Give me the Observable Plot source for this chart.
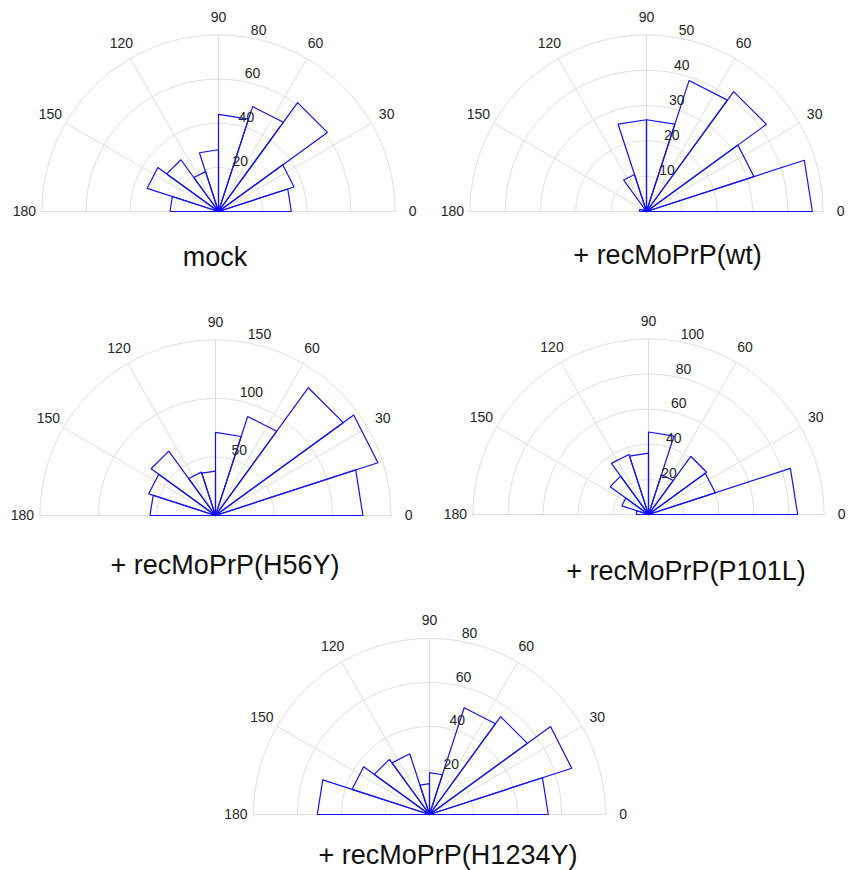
<!DOCTYPE html>
<html>
<head>
<meta charset="utf-8">
<script src="https://cdn.jsdelivr.net/npm/d3@7"></script>
<script src="https://cdn.jsdelivr.net/npm/@observablehq/plot@0.6"></script>
<style>
  body { margin: 0; background: #fff; }
  #root { position: relative; width: 852px; height: 870px; overflow: hidden; background: #fff; }
  .panel { position: absolute; }
</style>
</head>
<body>
<div id="root"></div>
<script>
// ---- data ----
const binEdges = [0, 18, 36, 54, 72, 90, 108, 126, 144, 162, 180];
const angleTicks = [0, 30, 60, 90, 120, 150, 180];
const spokeAngles = [30, 60, 90, 120, 150];

const titles = ["mock", "+ recMoPrP(wt)", "+ recMoPrP(H56Y)", "+ recMoPrP(P101L)", "+ recMoPrP(H1234Y)"];

const countsMock   = [33, 36, 61, 50, 44, 28, 19, 29, 34, 22];
const countsWt     = [47, 32, 42, 39, 26, 26, 11, 1, 1, 2];
const countsH56Y   = [126, 146, 135, 89, 71, 38, 39, 68, 60, 56];
const countsP101L  = [85, 40, 41, 24, 47, 35, 36, 27, 16, 7];
const countsH1234Y = [54, 68, 55, 51, 19, 14, 29, 31, 37, 51];

const ringTicksMock   = [20, 40, 60, 80];
const ringTicksWt     = [10, 20, 30, 40, 50];
const ringTicksH56Y   = [50, 100, 150];
const ringTicksP101L  = [20, 40, 60, 80, 100];
const ringTicksH1234Y = [20, 40, 60, 80];

// ---- layout (pixels) ----
const layout = [
  {cx: 217.5, cy: 211,   R: 176.5, tdx: -3.5, tdy: 46},
  {cx: 646,   cy: 211,   R: 176.5, tdx: 21,   tdy: 44},
  {cx: 214.5, cy: 515,   R: 175.5, tdx: 9.5,  tdy: 50},
  {cx: 647.5, cy: 513.5, R: 175.5, tdx: 37.5, tdy: 57},
  {cx: 428.5, cy: 813.5, R: 176,   tdx: 18.5, tdy: 40.5}
];

const series = [
  {counts: countsMock,   ticks: ringTicksMock},
  {counts: countsWt,     ticks: ringTicksWt},
  {counts: countsH56Y,   ticks: ringTicksH56Y},
  {counts: countsP101L,  ticks: ringTicksP101L},
  {counts: countsH1234Y, ticks: ringTicksH1234Y}
];

const FONT = "'Liberation Sans', Arial, Helvetica, sans-serif";
const GRID = "#dedede";
const TXT = "#262626";
const rad = a => a * Math.PI / 180;

function makePanel(s, title, L) {
  const W = 430, H = 292, lcx = 215, lcy = 211;
  const ticks = s.ticks;
  const rmax = ticks[ticks.length - 1];
  const rinc = ticks[0];

  const rings = ticks.flatMap(v => d3.range(0, 181, 1).map(a => ({ring: v, x: v * Math.cos(rad(a)), y: v * Math.sin(rad(a))})));
  const spokes = spokeAngles.flatMap(a => [
    {s: a, x: 0, y: 0},
    {s: a, x: rmax * Math.cos(rad(a)), y: rmax * Math.sin(rad(a))}
  ]);
  const base = [{x: -rmax, y: 0}, {x: rmax, y: 0}];

  const wedges = s.counts.flatMap((c, i) => {
    const a0 = rad(binEdges[i]), a1 = rad(binEdges[i + 1]);
    return [
      {b: i, x: 0, y: 0},
      {b: i, x: c * Math.cos(a0), y: c * Math.sin(a0)},
      {b: i, x: c * Math.cos(a1), y: c * Math.sin(a1)},
      {b: i, x: 0, y: 0}
    ];
  });

  const angLabels = angleTicks.map(a => ({t: String(a), x: 1.1 * rmax * Math.cos(rad(a)), y: 1.1 * rmax * Math.sin(rad(a))}));
  const c82 = Math.cos(rad(82)), s82 = Math.sin(rad(82));
  const radLabels = ticks.map(v => ({t: String(v), x: (v + rinc / 20) * c82, y: (v + rinc / 20) * s82}));

  const chart = Plot.plot({
    width: W,
    height: H,
    style: {fontFamily: FONT, background: "transparent", overflow: "visible"},
    x: {domain: [-rmax, rmax], range: [lcx - L.R, lcx + L.R], axis: null},
    y: {domain: [0, rmax], range: [lcy, lcy - L.R], axis: null},
    marks: [
      Plot.line(rings, {x: "x", y: "y", z: "ring", stroke: GRID, strokeWidth: 1}),
      Plot.line(spokes, {x: "x", y: "y", z: "s", stroke: GRID, strokeWidth: 1}),
      Plot.line(base, {x: "x", y: "y", stroke: GRID, strokeWidth: 1}),
      Plot.line(wedges, {x: "x", y: "y", z: "b", stroke: "#1010ff", strokeWidth: 1.2, strokeLinejoin: "miter"}),
      Plot.text(angLabels, {x: "x", y: "y", text: "t", fontSize: 14, fill: TXT, textAnchor: "middle", lineAnchor: "middle"}),
      Plot.text(radLabels, {x: "x", y: "y", text: "t", fontSize: 14, fill: TXT, textAnchor: "start", lineAnchor: "bottom", dx: 7.5}),
      Plot.text([{t: title, x: 0, y: 0}], {x: "x", y: "y", text: "t", fontSize: 27, fill: "#111", textAnchor: "middle", lineAnchor: "middle", dx: L.tdx, dy: L.tdy})
    ]
  });
  chart.classList.add("panel");
  chart.style.left = (L.cx - lcx) + "px";
  chart.style.top = (L.cy - lcy) + "px";
  return chart;
}

const root = document.getElementById("root");
series.forEach((s, i) => root.appendChild(makePanel(s, titles[i], layout[i])));
</script>
</body>
</html>
